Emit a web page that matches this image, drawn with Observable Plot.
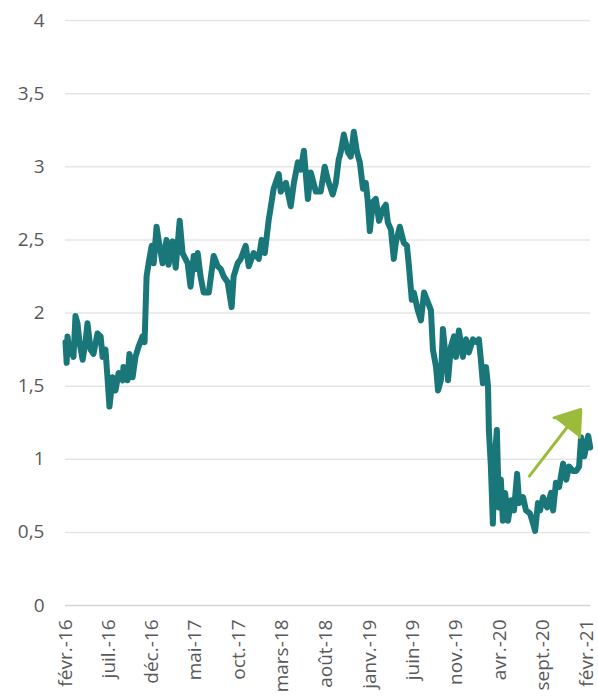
<!DOCTYPE html>
<html>
<head>
<meta charset="utf-8">
<script src="https://cdn.jsdelivr.net/npm/d3@7"></script>
<script src="https://cdn.jsdelivr.net/npm/@observablehq/plot@0.6"></script>
<style>
  html, body { margin: 0; padding: 0; background: #fff; }
  #chart { width: 598px; height: 696px; overflow: hidden; }
</style>
</head>
<body>
<div id="chart"></div>
<script>
const dates = [
  "2016-02-01","2016-02-05","2016-02-08","2016-02-15","2016-02-22","2016-02-29","2016-03-07","2016-03-14","2016-03-21","2016-04-01",
  "2016-04-11","2016-04-18","2016-04-29","2016-05-09","2016-05-23","2016-06-03","2016-06-10","2016-06-20","2016-06-27","2016-07-04",
  "2016-07-15","2016-07-25","2016-08-05","2016-08-19","2016-08-22","2016-09-05","2016-09-12","2016-09-23","2016-10-03","2016-10-14",
  "2016-10-28","2016-11-04","2016-11-11","2016-11-18","2016-11-29","2016-12-06","2016-12-16","2016-12-23","2017-01-06","2017-01-20",
  "2017-01-27","2017-02-10","2017-02-21","2017-03-07","2017-03-17","2017-04-04","2017-04-14","2017-04-25","2017-05-02","2017-05-09",
  "2017-05-19","2017-05-30","2017-06-17","2017-07-04","2017-07-18","2017-07-29","2017-08-08","2017-08-22","2017-09-05","2017-09-12",
  "2017-09-26","2017-10-07","2017-10-24","2017-11-04","2017-11-21","2017-12-09","2017-12-19","2017-12-30","2018-01-13","2018-01-23",
  "2018-01-30","2018-02-17","2018-02-24","2018-03-14","2018-03-31","2018-04-11","2018-04-25","2018-05-05","2018-05-16","2018-05-30",
  "2018-06-09","2018-06-27","2018-07-14","2018-07-28","2018-08-08","2018-08-25","2018-09-05","2018-09-15","2018-09-22","2018-10-03",
  "2018-10-17","2018-10-27","2018-11-07","2018-11-18","2018-11-28","2018-12-09","2018-12-19","2018-12-26","2019-01-02","2019-01-13",
  "2019-01-23","2019-02-03","2019-02-17","2019-02-27","2019-03-06","2019-03-17","2019-03-27","2019-04-03","2019-04-17","2019-05-01",
  "2019-05-12","2019-05-19","2019-05-29","2019-06-05","2019-06-19","2019-06-30","2019-07-11","2019-07-25","2019-08-04","2019-08-11",
  "2019-08-22","2019-08-29","2019-09-08","2019-09-15","2019-09-22","2019-10-03","2019-10-13","2019-10-24","2019-10-31","2019-11-10",
  "2019-11-24","2019-12-05","2019-12-15","2019-12-29","2020-01-12","2020-01-19","2020-01-26","2020-02-02","2020-02-13","2020-02-20",
  "2020-02-23","2020-03-01","2020-03-08","2020-03-15","2020-03-22","2020-03-29","2020-04-05","2020-04-12","2020-04-20","2020-04-30",
  "2020-05-11","2020-05-21","2020-06-01","2020-06-08","2020-06-22","2020-07-02","2020-07-16","2020-07-27","2020-08-03","2020-08-13",
  "2020-08-20","2020-08-31","2020-09-14","2020-09-28","2020-10-05","2020-10-15","2020-10-26","2020-11-09","2020-11-20","2020-11-30",
  "2020-12-14","2020-12-25","2021-01-04","2021-01-11","2021-01-22","2021-02-05","2021-02-12"
];
const values = [
  1.80,1.66,1.84,1.72,1.75,1.70,1.98,1.93,1.80,1.68,
  1.80,1.93,1.75,1.72,1.86,1.84,1.70,1.75,1.56,1.36,
  1.56,1.47,1.59,1.54,1.63,1.54,1.72,1.56,1.70,1.77,
  1.84,1.80,2.25,2.34,2.46,2.34,2.59,2.50,2.34,2.50,
  2.33,2.49,2.31,2.63,2.41,2.34,2.18,2.39,2.30,2.41,
  2.25,2.14,2.14,2.39,2.32,2.30,2.25,2.21,2.04,2.25,
  2.34,2.37,2.46,2.32,2.41,2.37,2.50,2.41,2.64,2.76,
  2.85,2.95,2.83,2.89,2.73,2.89,3.03,2.98,3.11,2.78,
  2.96,2.83,2.83,3.00,2.91,2.81,2.89,3.05,3.10,3.22,
  3.10,3.07,3.24,3.10,3.03,2.85,2.89,2.76,2.56,2.76,
  2.78,2.63,2.71,2.74,2.62,2.57,2.37,2.48,2.59,2.48,
  2.46,2.32,2.09,2.14,2.02,1.95,2.14,2.07,2.02,1.75,
  1.63,1.47,1.54,1.89,1.75,1.54,1.77,1.84,1.70,1.88,
  1.70,1.82,1.73,1.82,1.80,1.82,1.68,1.52,1.63,1.50,
  1.20,0.95,0.56,1.02,1.20,0.67,0.86,0.58,0.77,0.58,
  0.72,0.65,0.90,0.70,0.74,0.65,0.63,0.56,0.51,0.70,
  0.65,0.74,0.67,0.77,0.65,0.84,0.81,0.97,0.86,0.95,
  0.92,0.92,0.95,1.15,1.02,1.16,1.08
];

const xDomain = ["2016-02-01", "2021-02-13"];
const yTicks = [0, 0.5, 1, 1.5, 2, 2.5, 3, 3.5, 4];
const tickDates = ["2016-02-01","2016-07-01","2016-12-01","2017-05-01","2017-10-01","2018-03-01","2018-08-01","2019-01-01","2019-06-01","2019-11-01","2020-04-01","2020-09-01","2021-02-01"];
const tickLabels = ["févr.-16","juil.-16","déc.-16","mai-17","oct.-17","mars-18","août-18","janv.-19","juin-19","nov.-19","avr.-20","sept.-20","févr.-21"];

const arrowStart = {date: "2020-07-14", value: 0.885};
const arrowEnd = {date: "2021-01-10", value: 1.34};

const parse = d3.utcParse("%Y-%m-%d");
const data = dates.map((d, i) => ({date: parse(d), value: values[i]}));
const ticks = tickDates.map(parse);
const labelOf = new Map(ticks.map((t, i) => [+t, tickLabels[i]]));

const chart = Plot.plot({
  width: 598,
  height: 696,
  marginLeft: 65,
  marginRight: 8,
  marginTop: 20,
  marginBottom: 91,
  style: {fontFamily: "'Open Sans', sans-serif", background: "#fff"},
  x: {type: "utc", domain: xDomain.map(parse), ticks: ticks, tickFormat: d => labelOf.get(+d) ?? "", label: null},
  y: {domain: [0, 4], ticks: yTicks, tickFormat: d => String(d).replace(".", ","), label: null},
  marks: [
    Plot.ruleY(yTicks.filter(d => d > 0), {stroke: "#e6e6e6", strokeWidth: 1.5}),
    Plot.ruleY([0], {stroke: "#d4d4d4", strokeWidth: 1.5}),
    Plot.axisY({ticks: yTicks, tickSize: 0, tickPadding: 21, fontSize: 19, color: "#595959", tickFormat: d => String(d).replace(".", ","), label: null}),
    Plot.axisX({ticks: ticks, tickSize: 0, tickPadding: 14, tickRotate: -90, fontSize: 19, color: "#595959", tickFormat: d => labelOf.get(+d) ?? "", label: null}),
    Plot.line(data, {x: "date", y: "value", stroke: "#19777a", strokeWidth: 6, strokeLinejoin: "round", strokeLinecap: "round"}),
    Plot.arrow([{x1: parse(arrowStart.date), y1: arrowStart.value, x2: parse(arrowEnd.date), y2: arrowEnd.value}],
      {x1: "x1", y1: "y1", x2: "x2", y2: "y2", stroke: "#9cbb3b", fill: "#9cbb3b", strokeWidth: 3, headLength: 17, headAngle: 70, strokeLinejoin: "miter"})
  ]
});
document.getElementById("chart").appendChild(chart);
</script>
</body>
</html>
